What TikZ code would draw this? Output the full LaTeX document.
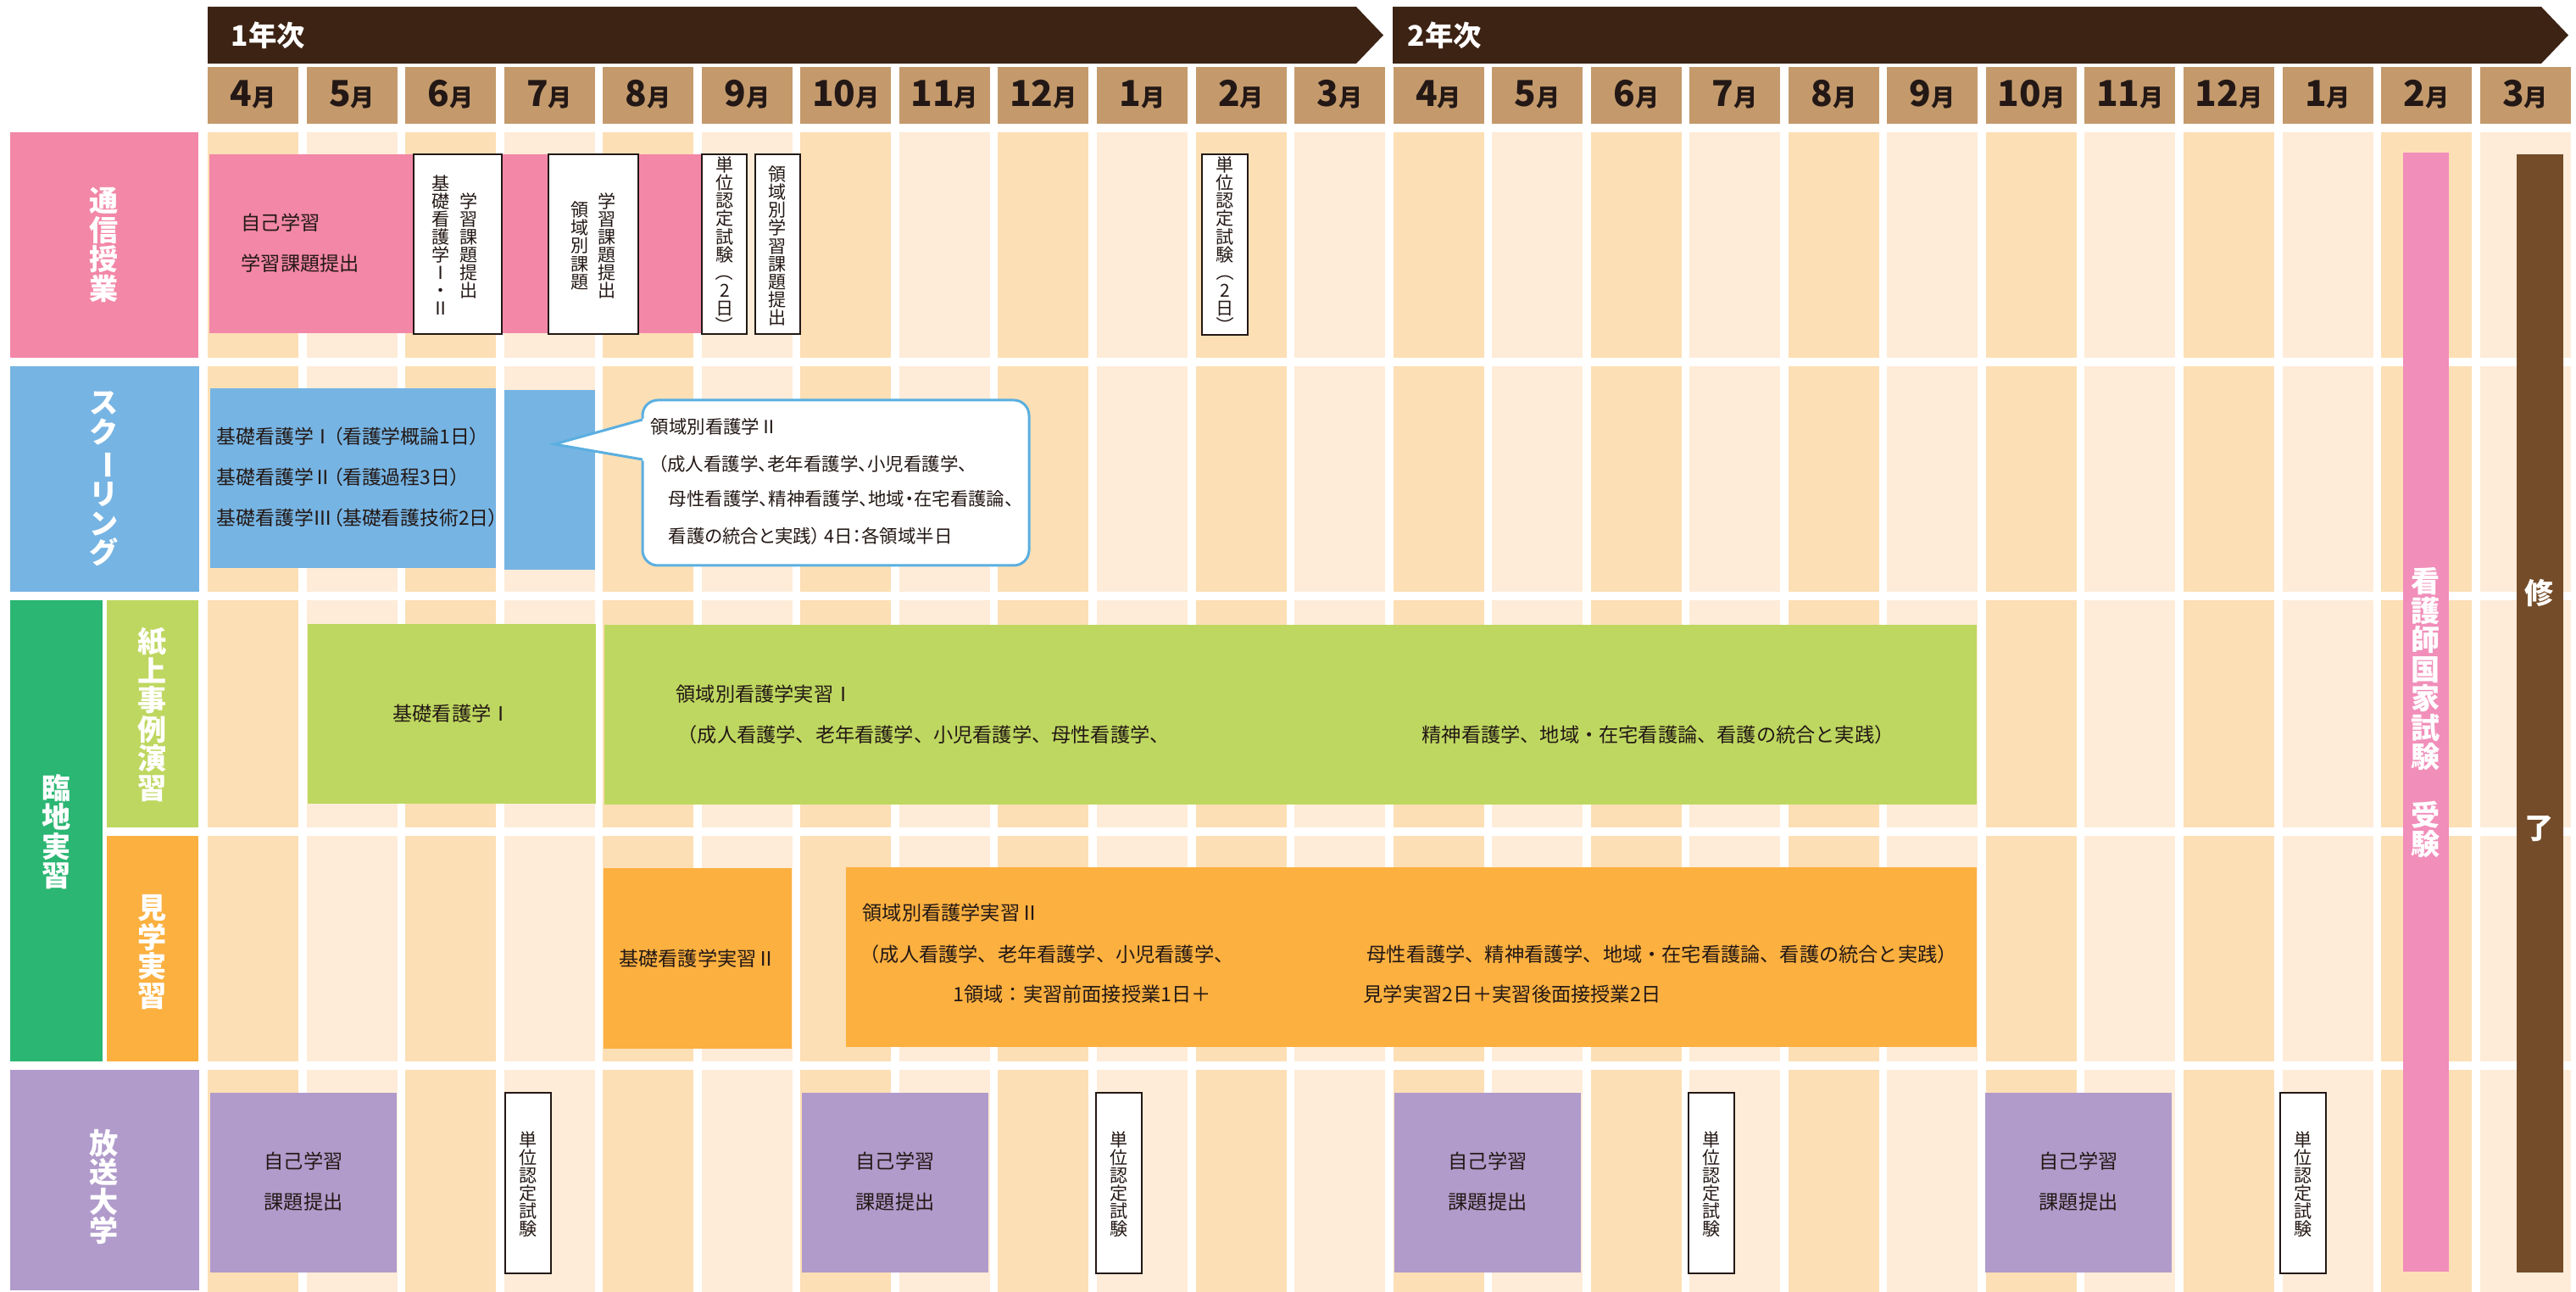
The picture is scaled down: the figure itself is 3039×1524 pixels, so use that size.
\documentclass[tikz,border=0pt]{standalone}
\usepackage{fontspec}
\usepackage{graphicx}
\usepackage{xcolor}
\setmainfont{Noto Sans CJK JP}
\newfontfamily\cjkp{Noto Sans CJK JP}[RawFeature=+palt]
\usetikzlibrary{positioning}

\definecolor{banner}{HTML}{3C2314}
\definecolor{monthc}{HTML}{C49A6C}
\definecolor{celldark}{HTML}{FDDFB5}
\definecolor{celllight}{HTML}{FEECD8}
\definecolor{tsushin}{HTML}{F287A7}
\definecolor{school}{HTML}{76B4E3}
\definecolor{rinchi}{HTML}{2BB673}
\definecolor{shijo}{HTML}{BED760}
\definecolor{kengaku}{HTML}{FBB040}
\definecolor{hoso}{HTML}{B19BCB}
\definecolor{kokka}{HTML}{F18EBA}
\definecolor{shuryo}{HTML}{754C29}
\definecolor{ink}{HTML}{231815}
\definecolor{callblue}{HTML}{5AAFE0}

\newcommand{\vpar}[1]{\rotatebox[origin=c]{-90}{#1}}

\tikzset{
  year/.style={text=white, font=\bfseries\fontsize{9.5}{9.5}\selectfont, inner sep=0},
  month/.style={text=ink, font=\bfseries, inner sep=0},
  lbl/.style={text=white, font=\bfseries\fontsize{9.7}{9.8}\selectfont, align=center, inner sep=0},
  txt/.style={text=ink, font=\fontsize{6.6}{6.6}\selectfont, inner sep=0},
  ptxt/.style={text=ink, font=\cjkp\fontsize{6.5}{6.5}\selectfont, inner sep=0},
  btxt/.style={text=ink, font=\cjkp\fontsize{6.1}{6.1}\selectfont, inner sep=0},
  vtxt/.style={text=ink, font=\fontsize{6}{6}\selectfont, align=center, inner sep=0},
  exambox/.style={fill=white, draw=ink, line width=0.55pt},
  bubble/.style={fill=white, draw=callblue, line width=0.85pt, rounded corners=1.8mm}
}

\begin{document}
\begin{tikzpicture}[x=0.1mm, y=-0.1mm]
    \useasboundingbox (0,0) rectangle (3039,1524);

    % Year banners
    \fill[banner] (245,8) -- (1600,8) -- (1632,41.5) -- (1600,75) -- (245,75) -- cycle;
    \fill[banner] (1643,8) -- (2998,8) -- (3030,41.5) -- (2998,75) -- (1643,75) -- cycle;
    \node[year, anchor=west] (year1) at (272,42) {1年次};
    \node[year, anchor=west] (year2) at (1660,42) {2年次};

    % Months
    \foreach \m [count=\i from 0] in {4,5,6,7,8,9,10,11,12,1,2,3,4,5,6,7,8,9,10,11,12,1,2,3} {
        \fill[monthc] ({245+116.55*\i},79) rectangle ({352+116.55*\i},146);
        \node[month, anchor=base] (m\i) at ({298.5+116.55*\i},126)
            {\fontsize{12}{12}\selectfont\m\fontsize{8}{8}\selectfont 月};
    }

    % Grid cells
    \foreach \i in {0,...,23} {
        \ifodd\i \def\cellc{celllight}\else \def\cellc{celldark}\fi
        \foreach \ya/\yb in {156/422,432/698,708/976,986/1252,1262/1524}
            \fill[\cellc] ({245+116.55*\i},\ya) rectangle ({352+116.55*\i},\yb);
    }

    % Row labels
    \fill[tsushin] (12,156) rectangle (234,422);
    \node[lbl] (lab1) at (123,289) {通\\信\\授\\業};
    \fill[school] (12,432) rectangle (235,698);
    \node[lbl] (lab2) at (123,565) {ス\\ク\\\vpar{ー}\\リ\\ン\\グ};
    \fill[rinchi] (12,708) rectangle (121,1252);
    \node[lbl] (lab3) at (67,981) {臨\\地\\実\\習};
    \fill[shijo] (126,708) rectangle (234,976);
    \node[lbl] (lab3a) at (180,843) {紙\\上\\事\\例\\演\\習};
    \fill[kengaku] (126,986) rectangle (234,1252);
    \node[lbl] (lab3b) at (180,1123) {見\\学\\実\\習};
    \fill[hoso] (12,1262) rectangle (235,1522);
    \node[lbl] (lab4) at (123,1400) {放\\送\\大\\学};

    % Correspondence
    \fill[tsushin] (247,182) rectangle (828,393);
    \node[txt, anchor=west] (self1) at (284,263) {自己学習};
    \node[txt, anchor=west] (task1) at (284,311) {学習課題提出};
    \filldraw[exambox] (488,182) rectangle (592,394);
    \node[vtxt] (sub1) at (553,290) {学\\習\\課\\題\\提\\出};
    \node[vtxt] (kiso1) at (520,289) {基\\礎\\看\\護\\学\\Ⅰ\\・\\Ⅱ};
    \filldraw[exambox] (647,182) rectangle (753,394);
    \node[vtxt] (sub2) at (716,290) {学\\習\\課\\題\\提\\出};
    \node[vtxt] (ryo1) at (684,290) {領\\域\\別\\課\\題};
    \filldraw[exambox] (828,182) rectangle (881,394);
    \node[vtxt] (exam1) at (855,290) {単\\位\\認\\定\\試\\験\\\vpar{（}\\2\\日\\\vpar{）}};
    \filldraw[exambox] (891,182) rectangle (944,394);
    \node[vtxt] (sub3) at (917,290) {領\\域\\別\\学\\習\\課\\題\\提\\出};
    \filldraw[exambox] (1418,182) rectangle (1472,395);
    \node[vtxt] (exam2) at (1445,290) {単\\位\\認\\定\\試\\験\\\vpar{（}\\2\\日\\\vpar{）}};

    % Schooling
    \fill[school] (248,458) rectangle (585,670);
    \fill[school] (595,460) rectangle (702,672);
    \node[ptxt, anchor=west] (sc1) at (255,515) {基礎看護学Ⅰ（看護学概論1日）};
    \node[ptxt, anchor=west] (sc2) at (255,563) {基礎看護学Ⅱ（看護過程3日）};
    \node[ptxt, anchor=west] (sc3) at (255,611) {基礎看護学Ⅲ（基礎看護技術2日）};
    \filldraw[bubble] (758,472) rectangle (1214,667);
    \coordinate (tip) at (654,524);
    \fill[white] (762,493) -- (tip) -- (762,544) -- cycle;
    \draw[callblue, line width=0.85pt] (758,495) -- (tip) -- (758,542);
    \node[btxt, anchor=west] (bub1) at (767,503) {領域別看護学Ⅱ};
    \node[btxt, anchor=west] (bub2) at (776,547) {（成人看護学、老年看護学、小児看護学、};
    \node[btxt, anchor=west] (bub3) at (788,588) {母性看護学、精神看護学、地域・在宅看護論、};
    \node[btxt, anchor=west] (bub4) at (788,632) {看護の統合と実践） 4日：各領域半日};

    % Case exercises
    \fill[shijo] (363,736) rectangle (703,948);
    \node[txt] (ex1) at (533,842) {基礎看護学Ⅰ};
    \fill[shijo] (713,737) rectangle (2332,949);
    \node[txt, anchor=west] (ex2) at (797,819) {領域別看護学実習Ⅰ};
    \node[txt, anchor=west] (ex3) at (799,867) {（成人看護学、老年看護学、小児看護学、母性看護学、};
    \node[txt, anchor=west] (ex4) at (1677,867) {精神看護学、地域・在宅看護論、看護の統合と実践）};

    % Observation practice
    \fill[kengaku] (712,1024) rectangle (934,1237);
    \node[txt] (ob1) at (823,1131) {基礎看護学実習Ⅱ};
    \fill[kengaku] (998,1023) rectangle (2332,1235);
    \node[txt, anchor=west] (ob2) at (1017,1077) {領域別看護学実習Ⅱ};
    \node[txt, anchor=west] (ob3) at (1014,1126) {（成人看護学、老年看護学、小児看護学、};
    \node[txt, anchor=west] (ob4) at (1612,1126) {母性看護学、精神看護学、地域・在宅看護論、看護の統合と実践）};
    \node[txt, anchor=west] (ob5) at (1124,1173) {1領域：実習前面接授業1日＋};
    \node[txt, anchor=west] (ob6) at (1608,1173) {見学実習2日＋実習後面接授業2日};

    % Open university
    \foreach \xa/\xe [count=\k] in {248/596,946/1293,1645/1992,2342/2690} {
        \fill[hoso] (\xa,1289) rectangle ({\xa+220},1501);
        \node[txt] (ou\k) at ({\xa+110},1370) {自己学習};
        \node[txt] (ous\k) at ({\xa+110},1418) {課題提出};
        \filldraw[exambox] (\xe,1289) rectangle ({\xe+54},1502);
        \node[vtxt] (oue\k) at ({\xe+27},1397) {単\\位\\認\\定\\試\\験};
    }

    % Final months
    \fill[kokka] (2835,180) rectangle (2889,1500);
    \node[lbl] (kokka) at (2862,841) {看\\護\\師\\国\\家\\試\\験\\　\\受\\験};
    \fill[shuryo] (2969,182) rectangle (3024,1501);
    \node[lbl] (fin1) at (2996,700) {修};
    \node[lbl] (fin2) at (2996,978) {了};
\end{tikzpicture}
\end{document}
